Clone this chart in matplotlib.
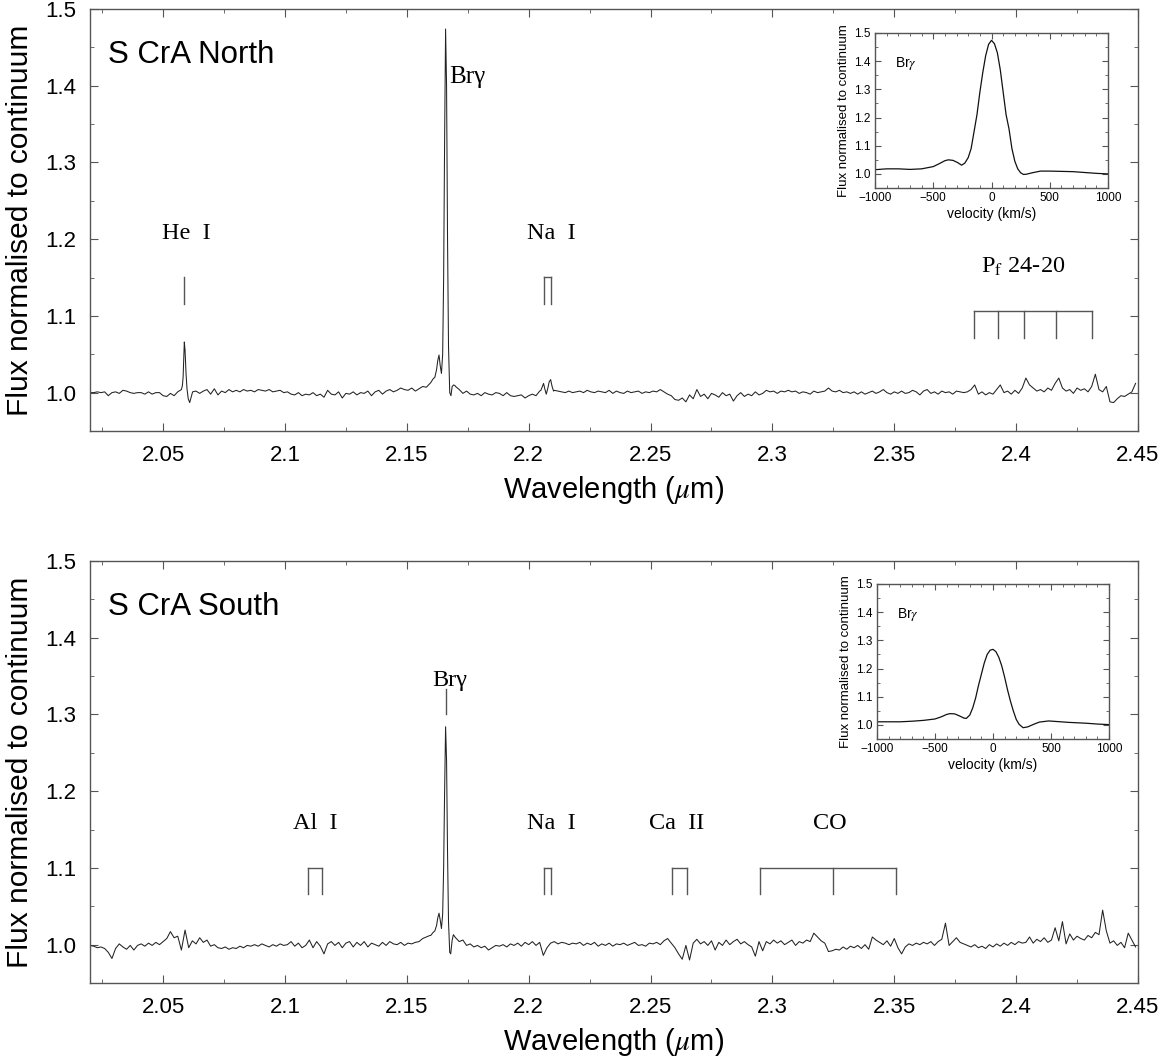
import numpy as np
import matplotlib
matplotlib.use("Agg")
import matplotlib.pyplot as plt
from matplotlib.ticker import MultipleLocator

plt.rcParams['font.family'] = ['Liberation Sans', 'DejaVu Sans']
plt.rcParams['mathtext.fontset'] = 'stix'

# regular wavelength grid of the spectra (micron)
wl_start = 2.020
wl_step = 0.0015

# S CrA North, flux on the grid (20 values per 0.03 micron)
north_flux = [
    1.000, 1.000, 1.001, 1.000, 1.001, 0.996, 1.000, 1.001, 0.999, 1.003, 1.002, 1.000, 0.999, 1.000, 1.000, 0.998, 1.001, 0.998, 1.000, 1.000,
    0.996, 0.995, 0.999, 0.996, 1.001, 1.008, 1.050, 0.990, 0.988, 1.002, 0.999, 1.002, 1.004, 0.998, 1.005, 0.997, 1.002, 1.000, 1.004, 1.001,
    1.003, 1.001, 1.004, 1.002, 1.003, 1.001, 1.004, 1.003, 1.002, 1.004, 1.001, 1.002, 1.003, 1.000, 1.001, 0.998, 0.997, 1.000, 0.996, 0.998,
    0.997, 1.000, 0.996, 0.998, 0.994, 1.003, 0.998, 0.997, 1.001, 0.993, 0.999, 0.998, 1.001, 0.997, 1.000, 0.999, 1.002, 0.996, 1.001, 1.003,
    0.998, 1.002, 1.004, 1.001, 1.003, 1.006, 1.004, 1.003, 1.006, 1.002, 1.005, 1.008, 1.007, 1.012, 1.018, 1.030, 1.030, 1.200, 0.998, 1.008,
    1.008, 1.004, 0.999, 1.002, 0.998, 0.997, 0.999, 0.996, 1.000, 0.998, 0.997, 1.000, 0.999, 0.996, 1.000, 0.996, 0.995, 0.996, 0.997, 0.993,
    0.996, 0.998, 0.996, 1.002, 1.006, 0.998, 1.014, 1.003, 1.002, 1.001, 1.000, 1.002, 1.000, 1.001, 1.002, 1.000, 1.003, 1.001, 1.000, 1.002,
    1.001, 1.000, 1.003, 0.999, 1.002, 1.000, 0.999, 1.002, 1.000, 1.001, 1.002, 0.999, 1.001, 1.000, 1.002, 1.001, 1.004, 1.001, 0.998, 0.996,
    0.991, 0.990, 0.993, 0.988, 0.997, 0.992, 1.004, 0.995, 0.998, 0.992, 0.999, 0.997, 0.994, 1.000, 0.996, 0.998, 0.989, 0.996, 1.000, 0.995,
    0.998, 0.996, 1.001, 0.997, 0.999, 1.003, 1.001, 1.002, 0.999, 1.002, 1.001, 1.003, 1.001, 1.002, 0.999, 1.001, 1.000, 0.998, 1.002, 1.000,
    1.001, 1.002, 1.006, 1.002, 1.001, 1.003, 1.000, 1.001, 0.999, 1.001, 0.998, 1.001, 0.998, 1.000, 1.002, 0.999, 1.001, 1.004, 1.000, 0.998,
    1.001, 0.999, 1.002, 0.999, 1.000, 1.003, 1.001, 0.997, 1.002, 1.004, 0.999, 1.001, 0.998, 1.002, 1.000, 1.001, 0.998, 1.002, 1.001, 1.000,
    1.001, 1.004, 1.010, 0.998, 1.001, 0.997, 1.000, 0.998, 1.004, 1.010, 1.000, 1.002, 0.998, 1.003, 0.999, 1.006, 1.019, 1.010, 1.006, 1.002,
    1.004, 1.001, 1.006, 1.003, 1.012, 1.019, 1.006, 1.002, 1.004, 0.999, 1.006, 1.003, 1.005, 1.001, 1.008, 1.024, 1.004, 1.001, 1.008, 0.988,
    0.987, 0.992, 0.996, 0.995, 0.998, 1.001, 1.012,
]

# finer samples across the emission lines (North)
north_hei_wl = [2.0575, 2.0579, 2.0582, 2.0585, 2.0587, 2.0590, 2.0594, 2.0598, 2.0603, 2.0609, 2.0615, 2.0621]
north_hei_flux = [1.004, 1.009, 1.020, 1.050, 1.066, 1.055, 1.025, 1.005, 0.992, 0.987, 0.994, 1.001]
north_bry_wl = [2.1598, 2.1608, 2.1615, 2.1622, 2.1627, 2.1632, 2.1637, 2.1642, 2.1647, 2.1651,
                2.1655, 2.1659, 2.1663, 2.1667, 2.1671, 2.1676, 2.1681, 2.1686, 2.1692, 2.1698]
north_bry_flux = [1.013, 1.018, 1.020, 1.030, 1.042, 1.049, 1.035, 1.025, 1.050, 1.150,
                  1.330, 1.474, 1.400, 1.200, 1.060, 1.000, 0.996, 1.008, 1.010, 1.009]
north_nai_wl = [2.2050, 2.2056, 2.2061, 2.2066, 2.2072, 2.2078, 2.2084, 2.2090, 2.2096, 2.2102]
north_nai_flux = [1.003, 1.008, 1.012, 1.005, 0.998, 1.005, 1.014, 1.017, 1.008, 1.002]

# S CrA South, flux on the grid
south_flux = [
    0.999, 0.998, 0.996, 0.997, 0.995, 0.990, 0.982, 0.995, 1.001, 0.997, 0.994, 0.999, 0.993, 0.999, 1.001, 0.998, 1.002, 0.999, 1.003, 1.000,
    1.004, 1.008, 1.017, 1.009, 1.011, 0.993, 1.019, 0.996, 1.005, 1.001, 1.009, 1.003, 1.006, 0.998, 1.000, 0.996, 0.995, 0.997, 0.994, 0.996,
    0.995, 0.998, 0.996, 0.999, 0.998, 1.000, 0.998, 1.001, 0.999, 0.997, 1.000, 0.998, 1.001, 0.999, 1.000, 1.004, 0.998, 1.002, 0.996, 0.999,
    1.006, 0.996, 1.004, 0.998, 0.988, 1.001, 1.004, 0.999, 1.003, 0.996, 1.002, 1.004, 0.997, 1.003, 0.999, 1.004, 0.997, 1.002, 1.000, 0.998,
    1.003, 0.999, 1.004, 1.001, 1.000, 1.003, 0.999, 1.002, 1.001, 1.003, 1.004, 1.008, 1.010, 1.012, 1.015, 1.030, 1.025, 1.200, 0.990, 1.010,
    1.009, 1.004, 1.006, 0.999, 1.001, 0.997, 0.999, 0.996, 0.998, 0.993, 0.996, 0.999, 0.998, 1.000, 0.997, 1.001, 0.999, 1.002, 0.998, 1.003,
    1.000, 1.004, 0.999, 1.003, 0.986, 0.996, 1.002, 1.004, 1.001, 1.003, 1.002, 1.000, 1.002, 1.001, 1.003, 0.999, 1.002, 1.000, 1.003, 0.998,
    1.001, 0.999, 1.002, 0.998, 1.001, 1.000, 1.002, 0.999, 1.001, 1.003, 0.999, 1.000, 0.998, 1.002, 1.001, 1.003, 1.000, 1.005, 1.008, 1.002,
    0.996, 0.988, 0.981, 0.999, 0.980, 1.002, 1.007, 1.001, 1.004, 0.999, 1.005, 0.993, 1.003, 0.999, 1.006, 1.000, 1.004, 1.007, 1.001, 1.004,
    1.000, 0.997, 0.985, 1.004, 0.992, 1.004, 1.001, 1.006, 1.002, 1.005, 1.000, 1.003, 1.006, 0.999, 1.004, 1.002, 1.006, 1.004, 1.015, 1.010,
    1.005, 1.002, 0.991, 0.992, 0.994, 0.993, 0.997, 0.994, 0.998, 0.996, 0.999, 0.995, 1.000, 0.994, 1.010, 1.006, 1.003, 1.000, 1.005, 0.998,
    1.008, 0.996, 0.988, 0.997, 1.001, 0.999, 1.002, 1.000, 1.003, 1.001, 1.004, 0.999, 1.004, 1.007, 1.028, 0.999, 1.004, 1.009, 1.003, 1.001,
    0.999, 0.997, 1.000, 0.996, 0.998, 0.995, 1.000, 0.997, 1.001, 0.998, 1.002, 0.999, 1.003, 1.000, 1.004, 1.002, 1.003, 1.010, 1.002, 1.007,
    1.004, 1.009, 1.003, 1.006, 1.022, 1.005, 1.030, 1.001, 1.014, 1.006, 1.011, 1.008, 1.006, 1.012, 1.009, 1.016, 1.013, 1.045, 1.018, 1.002,
    1.005, 0.999, 1.003, 0.996, 1.015, 1.006, 0.997,
]

south_bry_wl = [2.1598, 2.1608, 2.1615, 2.1622, 2.1627, 2.1632, 2.1637, 2.1642, 2.1647, 2.1651,
                2.1655, 2.1659, 2.1663, 2.1667, 2.1671, 2.1676, 2.1680, 2.1686, 2.1691, 2.1698]
south_bry_flux = [1.012, 1.016, 1.018, 1.025, 1.035, 1.041, 1.032, 1.021, 1.040, 1.100,
                  1.200, 1.284, 1.240, 1.120, 1.030, 0.990, 0.988, 1.006, 1.013, 1.010]

# Br gamma velocity profiles (insets)
north_vel = [-1000, -900, -800, -700, -600, -500, -450, -400, -370, -330, -290, -257, -230, -200,
             -175, -150, -125, -100, -75, -50, -25, 0, 25, 50, 75, 100, 125, 150, 175, 200,
             225, 250, 275, 300, 350, 420, 500, 600, 700, 800, 900, 1000]
north_prof = [1.015, 1.018, 1.018, 1.016, 1.018, 1.026, 1.036, 1.047, 1.050, 1.048, 1.040, 1.031, 1.038, 1.058,
              1.090, 1.150, 1.210, 1.290, 1.360, 1.420, 1.460, 1.474, 1.462, 1.430, 1.370, 1.290, 1.210, 1.160, 1.090, 1.045,
              1.018, 1.004, 0.998, 0.999, 1.004, 1.010, 1.010, 1.009, 1.008, 1.005, 1.002, 1.000]
south_vel = [-1000, -800, -700, -600, -500, -450, -400, -370, -330, -290, -250, -230, -200, -175,
             -150, -125, -100, -75, -50, -25, 0, 25, 50, 75, 100, 125, 150, 175, 200, 225,
             260, 300, 350, 400, 480, 550, 650, 800, 900, 1000]
south_prof = [1.011, 1.011, 1.013, 1.016, 1.021, 1.028, 1.037, 1.040, 1.039, 1.032, 1.024, 1.023, 1.035, 1.060,
              1.095, 1.140, 1.180, 1.220, 1.250, 1.265, 1.268, 1.260, 1.240, 1.210, 1.170, 1.125, 1.085, 1.050, 1.020, 1.002,
              0.990, 0.993, 1.002, 1.010, 1.014, 1.012, 1.009, 1.006, 1.003, 1.001]

# line identifications: (label, label x, label y, marker wavelengths, marker bottom, marker top)
north_ids = [
    ("He  I", 2.0595, 1.208, [2.0587], 1.116, 1.151),
    ("Na  I", 2.2094, 1.208, [2.2062, 2.2090], 1.116, 1.151),
    (r"P$_{\rm f}$ 24-20", 2.4030, 1.164, [2.3829, 2.3924, 2.4034, 2.4165, 2.4313], 1.071, 1.106),
]
south_ids = [
    ("Al  I", 2.1124, 1.158, [2.1095, 2.1150], 1.066, 1.100),
    ("Br\u03b3", 2.1675, 1.344, [2.1660], 1.301, 1.333),
    ("Na  I", 2.2094, 1.158, [2.2062, 2.2090], 1.066, 1.100),
    ("Ca  II", 2.2608, 1.158, [2.2590, 2.2650], 1.066, 1.100),
    ("CO", 2.3235, 1.158, [2.2951, 2.3247, 2.3509], 1.066, 1.100),
]

line_col = '#222222'
frame_col = '#555555'
serif = ['Liberation Serif', 'DejaVu Serif']


def merge(grid_flux, windows):
    wl = wl_start + wl_step * np.arange(len(grid_flux))
    flux = np.array(grid_flux, dtype=float)
    keep = np.ones(len(wl), dtype=bool)
    xs, ys = [], []
    for w, f in windows:
        keep &= ~((wl >= min(w) - 1e-6) & (wl <= max(w) + 1e-6))
        xs += w
        ys += f
    x = np.concatenate([wl[keep], xs])
    y = np.concatenate([flux[keep], ys])
    o = np.argsort(x)
    return x[o], y[o]


def style(ax, major, minor_x, ymaj, ymin, size, pad, length):
    for s in ax.spines.values():
        s.set_color(frame_col)
        s.set_linewidth(1.0)
    ax.xaxis.set_major_locator(MultipleLocator(major))
    ax.xaxis.set_minor_locator(MultipleLocator(minor_x))
    ax.yaxis.set_major_locator(MultipleLocator(ymaj))
    ax.yaxis.set_minor_locator(MultipleLocator(ymin))
    ax.tick_params(which='both', direction='in', top=True, right=True,
                   color=frame_col, labelsize=size, pad=pad)
    ax.tick_params(which='major', length=length)
    ax.tick_params(which='minor', length=length * 0.5)


def main_panel(rect, x, y, title, ids, bry_label):
    ax = fig.add_axes(rect)
    ax.plot(x, y, color=line_col, lw=0.75)
    ax.set_xlim(2.02, 2.45)
    ax.set_ylim(0.95, 1.5)
    style(ax, 0.05, 0.025, 0.1, 0.05, 16, 10, 6)
    ax.xaxis.set_major_formatter(plt.FuncFormatter(lambda v, p: f"{v:.2f}".rstrip('0')))
    ax.yaxis.set_major_formatter(plt.FuncFormatter(lambda v, p: f"{v:.1f}"))
    ax.set_xlabel(r"Wavelength ($\mu$m)", fontsize=21, labelpad=6)
    ax.set_ylabel("Flux normalised to continuum", fontsize=21.5, labelpad=8)
    ax.text(0.017, 0.89, title, transform=ax.transAxes, fontsize=22.5, va='center', ha='left')
    for label, lx, ly, marks, lo, hi in ids:
        ax.text(lx, ly, label, family=serif, fontsize=17.5, ha='center', va='center')
        for m in marks:
            ax.plot([m, m], [lo, hi], color=frame_col, lw=1.0)
        if len(marks) > 1:
            ax.plot([marks[0], marks[-1]], [hi, hi], color=frame_col, lw=1.0)
    if bry_label:
        ax.text(2.1672, 1.411, "Br\u03b3", family=serif, fontsize=18, ha='left', va='center')
    return ax


def inset(rect, v, f):
    ax = fig.add_axes(rect)
    ax.plot(v, f, color='#111111', lw=0.9)
    ax.set_xlim(-1000, 1000)
    ax.set_ylim(0.95, 1.5)
    style(ax, 500, 100, 0.1, 0.05, 8.5, 3, 4)
    ax.yaxis.set_major_formatter(plt.FuncFormatter(lambda v, p: f"{v:.1f}"))
    ax.set_xlabel("velocity (km/s)", fontsize=10, labelpad=2)
    ax.set_ylabel("Flux normalised to continuum", fontsize=9.5, labelpad=3)
    ax.text(-830, 1.392, r"Br$\gamma$", fontsize=10, ha='left', va='center')
    return ax


fig = plt.figure(figsize=(11.75, 10.61), dpi=100)

nx, ny = merge(north_flux, [(north_hei_wl, north_hei_flux), (north_bry_wl, north_bry_flux),
                            (north_nai_wl, north_nai_flux)])
sx, sy = merge(south_flux, [(south_bry_wl, south_bry_flux)])

main_panel([0.0766, 0.5938, 0.8919, 0.3977], nx, ny, "S CrA North", north_ids, True)
main_panel([0.0766, 0.0735, 0.8919, 0.3977], sx, sy, "S CrA South", south_ids, False)

inset([0.7447, 0.8228, 0.1983, 0.1461], north_vel, north_prof)
inset([0.7464, 0.3035, 0.1974, 0.1461], south_vel, south_prof)

fig.savefig("out.png", dpi=100)
